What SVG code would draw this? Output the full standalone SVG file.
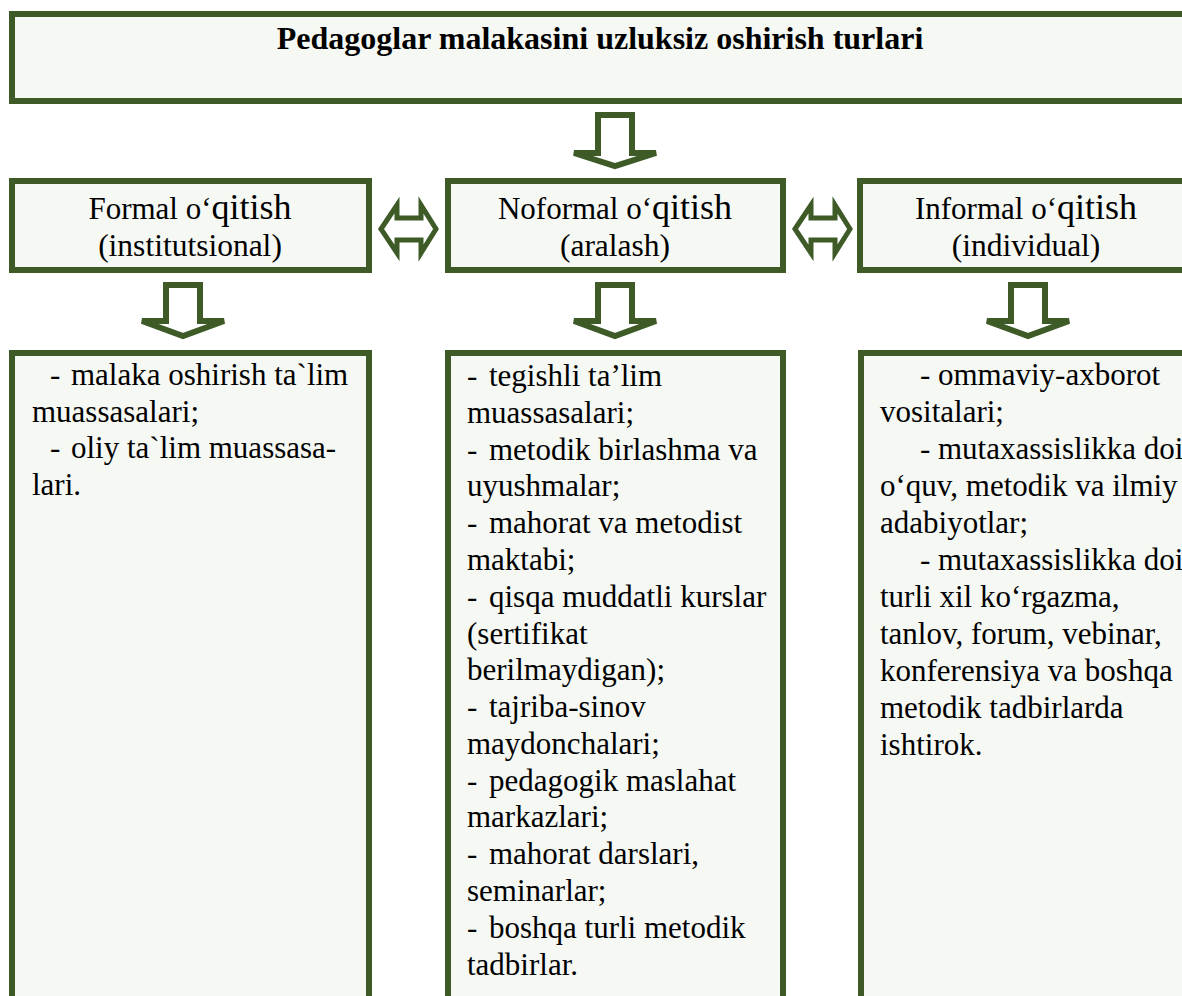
<svg xmlns="http://www.w3.org/2000/svg" width="1182" height="996" viewBox="0 0 1182 996">
<style>
.box{fill:#f6f8f3;stroke:#3e5b27;stroke-width:6}
.arr{fill:#ffffff;stroke:#3e5b27;stroke-width:6;stroke-linejoin:miter}
.darr{fill:#ffffff;stroke:#3e5b27;stroke-width:5;stroke-linejoin:miter}
text{font-family:"Liberation Serif","Times New Roman",serif;fill:#000}
.t{font-size:32px;font-weight:bold}
.h1{font-size:31px}
.h1b{font-size:36px}
.h2{font-size:31.5px}
.b{font-size:31px}
</style>
<rect width="1182" height="996" fill="#ffffff"/>
<g id="title">
<rect class="box" x="12" y="14" width="1200" height="87"/>
<text class="t" x="600" y="49" text-anchor="middle">Pedagoglar malakasini uzluksiz oshirish turlari</text>
</g>
<g id="formal">
<rect class="box" x="12" y="181" width="357" height="89"/>
<text x="190" y="219" text-anchor="middle"><tspan class="h1">Formal o‘</tspan><tspan class="h1b">qitish</tspan></text>
<text class="h2" x="190" y="256" text-anchor="middle">(institutsional)</text>
</g>
<g id="noformal">
<rect class="box" x="448" y="181" width="335" height="89"/>
<text x="615" y="219" text-anchor="middle"><tspan class="h1">Noformal o‘</tspan><tspan class="h1b">qitish</tspan></text>
<text class="h2" x="615" y="256" text-anchor="middle">(aralash)</text>
</g>
<g id="informal">
<rect class="box" x="860" y="181" width="360" height="89"/>
<text x="1026" y="219" text-anchor="middle"><tspan class="h1">Informal o‘</tspan><tspan class="h1b">qitish</tspan></text>
<text class="h2" x="1026" y="256" text-anchor="middle">(individual)</text>
</g>
<g id="formal-list">
<rect class="box" x="12" y="353" width="357" height="700"/>
<text class="b"><tspan x="50" y="385">-</tspan><tspan x="71" y="385">malaka oshirish ta`lim</tspan><tspan x="32" y="422">muassasalari;</tspan><tspan x="50" y="458">-</tspan><tspan x="71" y="458">oliy ta`lim muassasa-</tspan><tspan x="32" y="495">lari.</tspan></text>
</g>
<g id="noformal-list">
<rect class="box" x="448" y="353" width="335" height="700"/>
<text class="b">
<tspan x="467" y="386">-</tspan><tspan x="489" y="386">tegishli ta’lim</tspan>
<tspan x="467" y="423">muassasalari;</tspan>
<tspan x="467" y="460">-</tspan><tspan x="489" y="460">metodik birlashma va</tspan>
<tspan x="467" y="496">uyushmalar;</tspan>
<tspan x="467" y="533">-</tspan><tspan x="489" y="533">mahorat va metodist</tspan>
<tspan x="467" y="570">maktabi;</tspan>
<tspan x="467" y="607">-</tspan><tspan x="489" y="607">qisqa muddatli kurslar</tspan>
<tspan x="467" y="644">(sertifikat</tspan>
<tspan x="467" y="680">berilmaydigan);</tspan>
<tspan x="467" y="717">-</tspan><tspan x="489" y="717">tajriba-sinov</tspan>
<tspan x="467" y="754">maydonchalari;</tspan>
<tspan x="467" y="791">-</tspan><tspan x="489" y="791">pedagogik maslahat</tspan>
<tspan x="467" y="827">markazlari;</tspan>
<tspan x="467" y="864">-</tspan><tspan x="489" y="864">mahorat darslari,</tspan>
<tspan x="467" y="901">seminarlar;</tspan>
<tspan x="467" y="938">-</tspan><tspan x="489" y="938">boshqa turli metodik</tspan>
<tspan x="467" y="975">tadbirlar.</tspan>
</text>
</g>
<g id="informal-list">
<rect class="box" x="861" y="353" width="360" height="700"/>
<text class="b">
<tspan x="920" y="385">-</tspan><tspan x="938" y="385">ommaviy-axborot</tspan>
<tspan x="880" y="422">vositalari;</tspan>
<tspan x="920" y="459">-</tspan><tspan x="938" y="459">mutaxassislikka doir</tspan>
<tspan x="880" y="496">o‘quv, metodik va ilmiy</tspan>
<tspan x="880" y="533">adabiyotlar;</tspan>
<tspan x="920" y="570">-</tspan><tspan x="938" y="570">mutaxassislikka doir</tspan>
<tspan x="880" y="607">turli xil ko‘rgazma,</tspan>
<tspan x="880" y="644">tanlov, forum, vebinar,</tspan>
<tspan x="880" y="681">konferensiya va boshqa</tspan>
<tspan x="880" y="718">metodik tadbirlarda</tspan>
<tspan x="880" y="755">ishtirok.</tspan>
</text>
</g>
<g id="connectors">
<polygon class="arr" points="598,115 632,115 632,153 656,153 615,166 574,153 598,153"/>
<polygon class="arr" points="166,285 200,285 200,321 224,321 183,336 142,321 166,321"/>
<polygon class="arr" points="598,285 632,285 632,321 656,321 615,336 574,321 598,321"/>
<polygon class="arr" points="1011,285 1045,285 1045,321 1069,321 1028,336 987,321 1011,321"/>
<polygon class="darr" points="381,229 397,205 397,218 421,218 421,205 436,229 421,253 421,240 397,240 397,253"/>
<polygon class="darr" points="795,229 811,205 811,218 835,218 835,205 850,229 835,253 835,240 811,240 811,253"/>
</g>
</svg>
